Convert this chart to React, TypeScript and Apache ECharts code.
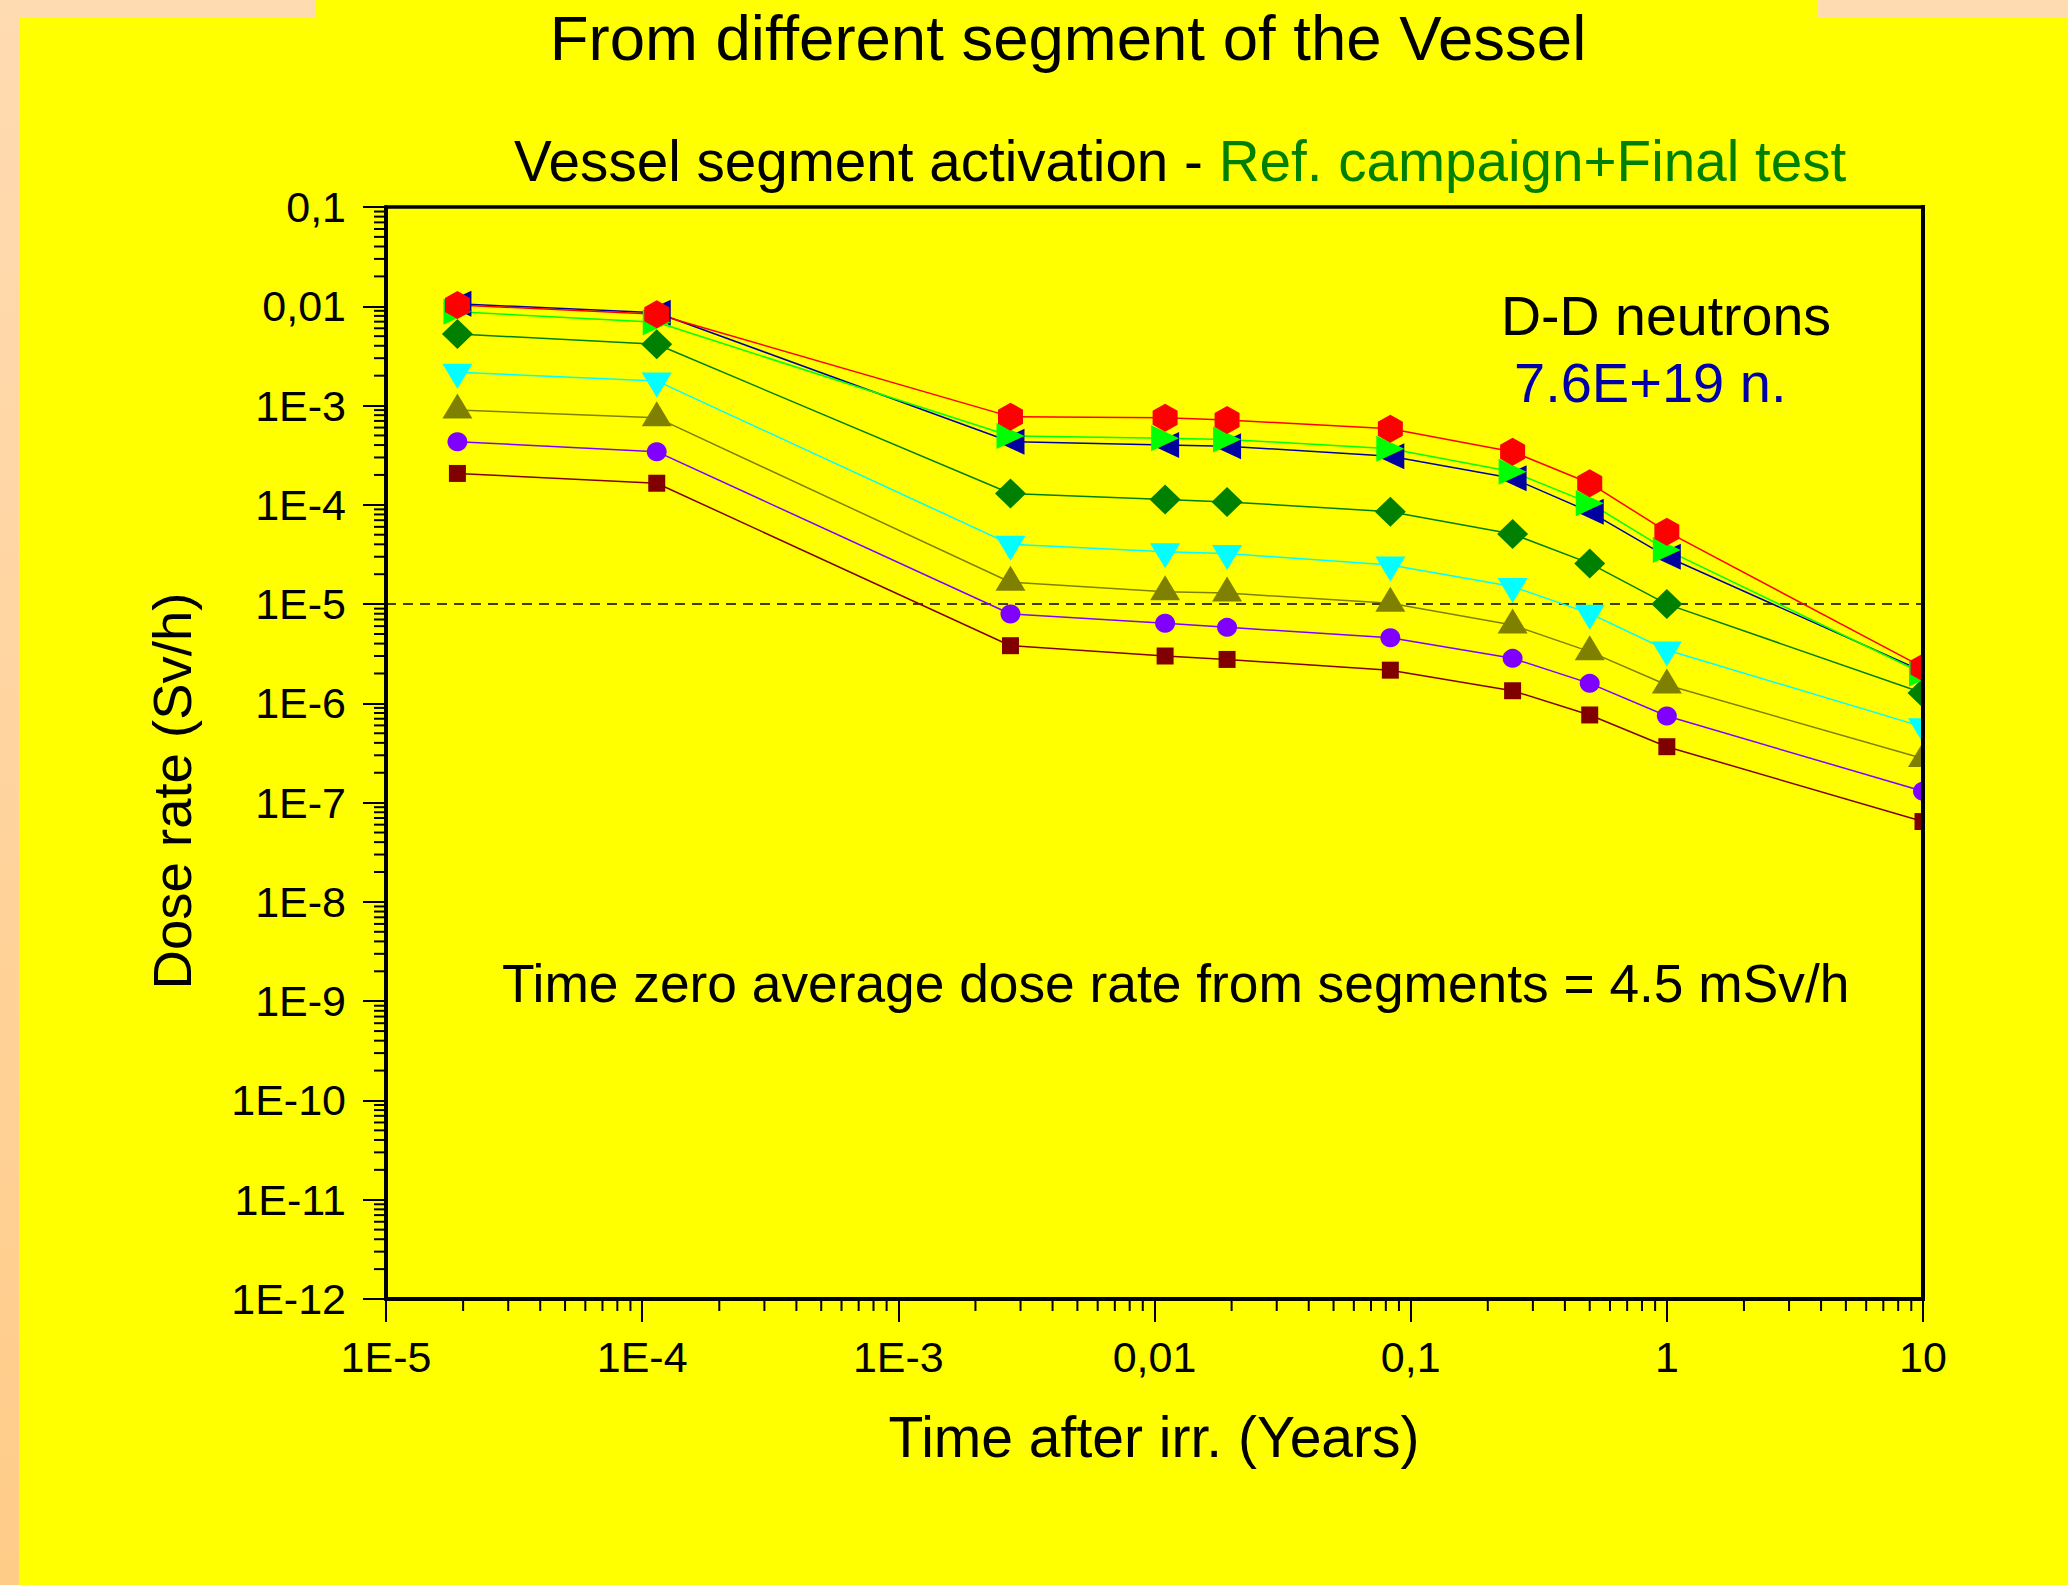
import React, { useEffect, useRef } from "react";
import * as echarts from "echarts";

// ---- data ----
const timeYears = [1.9e-5, 1.14e-4, 2.74e-3, 0.011, 0.0192, 0.0833, 0.25, 0.5, 1, 10];

const segMaroon = [2.07e-4, 1.65e-4, 3.81e-6, 3.0e-6, 2.77e-6, 2.16e-6, 1.34e-6, 7.64e-7, 3.66e-7, 6.45e-8];
const segPurple = [4.32e-4, 3.43e-4, 7.94e-6, 6.4e-6, 5.83e-6, 4.58e-6, 2.84e-6, 1.59e-6, 7.46e-7, 1.3e-7];
const segOlive = [9.0e-4, 7.55e-4, 1.66e-5, 1.33e-5, 1.29e-5, 1.02e-5, 6.15e-6, 3.32e-6, 1.53e-6, 2.78e-7];
const segCyan = [2.16e-3, 1.77e-3, 4.0e-5, 3.37e-5, 3.24e-5, 2.47e-5, 1.5e-5, 8.07e-6, 3.45e-6, 5.8e-7];
const segDkGreen = [5.26e-3, 4.14e-3, 1.3e-4, 1.13e-4, 1.07e-4, 8.53e-5, 5.08e-5, 2.57e-5, 1.0e-5, 1.27e-6];
const segBlue = [1.06e-2, 8.6e-3, 4.32e-4, 4.0e-4, 3.9e-4, 3.09e-4, 1.85e-4, 8.5e-5, 3.0e-5, 2.1e-6];
const segGreen = [8.8e-3, 6.9e-3, 4.94e-4, 4.68e-4, 4.56e-4, 3.67e-4, 2.15e-4, 1.04e-4, 3.5e-5, 2.0e-6];
const segRed = [1.03e-2, 8.3e-3, 7.73e-4, 7.55e-4, 7.14e-4, 5.84e-4, 3.43e-4, 1.65e-4, 5.36e-5, 2.3e-6];

const limitLine = 1e-5;

const xTickLabels = ["1E-5", "1E-4", "1E-3", "0,01", "0,1", "1", "10"]; // exponents -5..1
const yTickLabels = ["1E-12", "1E-11", "1E-10", "1E-9", "1E-8", "1E-7", "1E-6", "1E-5", "1E-4", "1E-3", "0,01", "0,1"]; // -12..-1

const X_MIN = 1e-5;
const X_MAX = 10;
const Y_MIN = 1e-12;
const Y_MAX = 0.1;

const FONT = "'Liberation Sans', Arial, sans-serif";

function minorTicks(expFrom: number, expTo: number): number[] {
  const out: number[] = [];
  for (let k = expFrom; k < expTo; k++) {
    for (let m = 2; m <= 9; m++) out.push(m * Math.pow(10, k));
  }
  return out;
}

const hexagon = "path://M50,0 L100,25 L100,75 L50,100 L0,75 L0,25 Z";

export default function App() {
  const ref = useRef<HTMLDivElement>(null);

  useEffect(() => {
    document.body.style.margin = "0";
    const chart = echarts.init(ref.current!, null, { renderer: "svg" });

    const mk = (
      name: string,
      vals: number[],
      color: string,
      symbol: string,
      size: number | number[],
      rotate = 0,
      offset: number[] = [0, 0]
    ) => ({
      name,
      type: "line",
      data: timeYears.map((x, i) => [x, vals[i]]),
      symbol,
      symbolSize: size,
      symbolRotate: rotate,
      symbolOffset: offset,
      showAllSymbol: true,
      clip: false,
      lineStyle: { color, width: 1.5 },
      itemStyle: { color, borderWidth: 0 },
      z: 3,
    });

    const xMinor = minorTicks(-5, 1);
    const yMinor = minorTicks(-12, -1);

    const option: any = {
      animation: false,
      backgroundColor: "#FFFF00",
      textStyle: { fontFamily: FONT },
      grid: {
        left: 386,
        top: 207,
        right: 2068 - 1923,
        bottom: 1585 - 1299,
        show: true,
        borderColor: "#000",
        borderWidth: 3.5,
        backgroundColor: "transparent",
      },
      xAxis: {
        type: "log",
        logBase: 10,
        min: X_MIN,
        max: X_MAX,
        interval: 1,
        axisLine: { show: true, onZero: false, lineStyle: { color: "#000", width: 4 } },
        axisTick: { show: true, inside: false, length: 23, lineStyle: { color: "#000", width: 2 } },
        splitLine: { show: false },
        axisLabel: {
          color: "#000",
          fontSize: 43,
          fontFamily: FONT,
          margin: 36,
          formatter: (v: number) => xTickLabels[Math.round(Math.log10(v)) + 5] ?? "",
        },
      },
      yAxis: {
        type: "log",
        logBase: 10,
        min: Y_MIN,
        max: Y_MAX,
        interval: 1,
        axisLine: { show: true, onZero: false, lineStyle: { color: "#000", width: 4 } },
        axisTick: { show: true, inside: false, length: 23, lineStyle: { color: "#000", width: 2 } },
        splitLine: { show: false },
        axisLabel: {
          color: "#000",
          fontSize: 43,
          fontFamily: FONT,
          margin: 40,
          formatter: (v: number) => yTickLabels[Math.round(Math.log10(v)) + 12] ?? "",
        },
      },
      series: [
        {
          name: "xMinor",
          type: "custom",
          silent: true,
          data: xMinor.map((v) => [v, Y_MIN]),
          renderItem: (_p: any, api: any) => {
            const pt = api.coord([api.value(0), Y_MIN]);
            return {
              type: "line",
              shape: { x1: pt[0], y1: pt[1], x2: pt[0], y2: pt[1] + 12 },
              style: { stroke: "#000", lineWidth: 2 },
            };
          },
          z: 1,
        },
        {
          name: "yMinor",
          type: "custom",
          silent: true,
          data: yMinor.map((v) => [X_MIN, v]),
          renderItem: (_p: any, api: any) => {
            const pt = api.coord([X_MIN, api.value(1)]);
            return {
              type: "line",
              shape: { x1: pt[0] - 12, y1: pt[1], x2: pt[0], y2: pt[1] },
              style: { stroke: "#000", lineWidth: 2 },
            };
          },
          z: 1,
        },
        {
          name: "limit",
          type: "line",
          silent: true,
          symbol: "none",
          data: [
            [X_MIN, limitLine],
            [X_MAX, limitLine],
          ],
          lineStyle: { color: "#000", width: 1.5, type: [10, 7] },
          z: 2,
        },
        mk("maroon", segMaroon, "#800000", "rect", [17, 17]),
        mk("purple", segPurple, "#8000FF", "circle", [20, 19]),
        mk("olive", segOlive, "#808000", "triangle", [30, 25], 0, [0, -4]),
        mk("cyan", segCyan, "#00FFFF", "triangle", [30, 25], 180, [0, 4]),
        mk("dkgreen", segDkGreen, "#008000", "diamond", [31, 30]),
        mk("blue", segBlue, "#0000A0", "triangle", [26, 28], 90),
        mk("green", segGreen, "#00FF00", "triangle", [26, 28], -90),
        mk("red", segRed, "#FF0000", hexagon, [25, 28]),
      ],
      graphic: [
        // peach frame strips
        {
          type: "rect",
          shape: { x: 0, y: 0, width: 19, height: 1585 },
          style: {
            fill: new echarts.graphic.LinearGradient(0, 0, 0, 1, [
              { offset: 0, color: "#FFDBB2" },
              { offset: 1, color: "#FFCC88" },
            ]),
          },
          z: 0,
        },
        { type: "rect", shape: { x: 0, y: 0, width: 316, height: 18 }, style: { fill: "#FFDBB2" }, z: 0 },
        { type: "rect", shape: { x: 1818, y: 0, width: 250, height: 18 }, style: { fill: "#FFDBB2" }, z: 0 },
        // mask right of plot (markers clipped at the frame)
        { type: "rect", shape: { x: 1925, y: 190, width: 60, height: 1125 }, style: { fill: "#FFFF00" }, z: 50 },
        {
          type: "line",
          shape: { x1: 1923, y1: 205, x2: 1923, y2: 1301 },
          style: { stroke: "#000", lineWidth: 4 },
          z: 51,
        },
        // titles
        {
          type: "text",
          x: 1068,
          y: 38,
          style: {
            text: "From different segment of the Vessel",
            fill: "#000",
            font: `63.5px ${FONT}`,
            textAlign: "center",
            textVerticalAlign: "middle",
          },
          z: 60,
        },
        {
          type: "text",
          x: 514,
          y: 161,
          style: {
            text: "{a|Vessel segment activation - }{b|Ref. campaign+Final test}",
            textAlign: "left",
            textVerticalAlign: "middle",
            rich: {
              a: { fill: "#000", fontSize: 56.6, fontFamily: FONT },
              b: { fill: "#008000", fontSize: 56.6, fontFamily: FONT },
            },
          },
          z: 60,
        },
        {
          type: "text",
          x: 1501,
          y: 316,
          style: { text: "D-D neutrons", fill: "#000", font: `55.5px ${FONT}`, textAlign: "left", textVerticalAlign: "middle" },
          z: 60,
        },
        {
          type: "text",
          x: 1514,
          y: 382,
          style: { text: "7.6E+19 n.", fill: "#0000AA", font: `56px ${FONT}`, textAlign: "left", textVerticalAlign: "middle" },
          z: 60,
        },
        {
          type: "text",
          x: 502,
          y: 983,
          style: {
            text: "Time zero average dose rate from segments = 4.5 mSv/h",
            fill: "#000",
            font: `53.3px ${FONT}`,
            textAlign: "left",
            textVerticalAlign: "middle",
          },
          z: 60,
        },
        {
          type: "text",
          x: 1154,
          y: 1437,
          style: {
            text: "Time after irr. (Years)",
            fill: "#000",
            font: `57px ${FONT}`,
            textAlign: "center",
            textVerticalAlign: "middle",
          },
          z: 60,
        },
        {
          type: "text",
          x: 172,
          y: 791,
          rotation: Math.PI / 2,
          style: {
            text: "Dose rate (Sv/h)",
            fill: "#000",
            font: `54.5px ${FONT}`,
            textAlign: "center",
            textVerticalAlign: "middle",
          },
          z: 60,
        },
      ],
    };

    chart.setOption(option);
    return () => chart.dispose();
  }, []);

  return <div ref={ref} style={{ width: 2068, height: 1585 }} />;
}
